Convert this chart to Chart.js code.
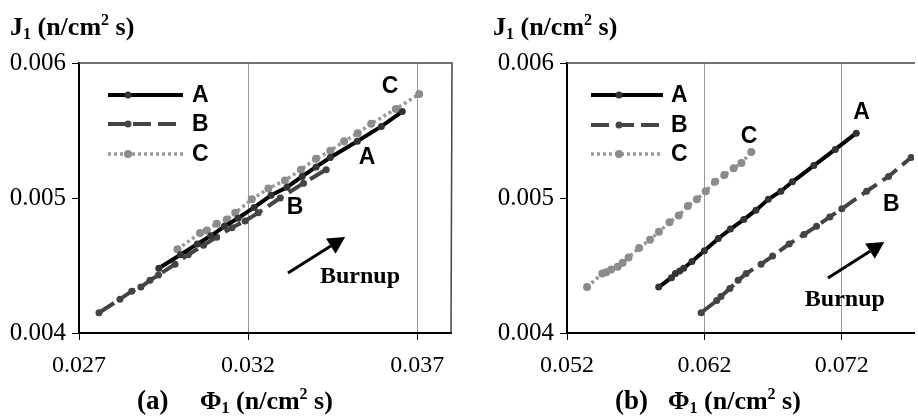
<!DOCTYPE html>
<html>
<head>
<meta charset="utf-8">
<script src="https://cdn.jsdelivr.net/npm/chart.js@4.4.1/dist/chart.umd.min.js"></script>
<style>
  body { margin: 0; background: #fff; }
  .panel { position: absolute; top: 0; width: 459px; height: 419px; }
  #pa { left: 0; }
  #pb { left: 459px; }
</style>
</head>
<body>
<div class="panel" id="pa"><canvas id="chartA" width="459" height="419"></canvas></div>
<div class="panel" id="pb"><canvas id="chartB" width="459" height="419"></canvas></div>
<script>
// series names and shared y ticks
const seriesNames = ['A', 'B', 'C'];
const yTicks = [0.004, 0.005, 0.006];

// panel (a)
const xTicksA = [0.027, 0.032, 0.037];
const aX_A = [0.02936, 0.0300, 0.0305, 0.0309, 0.0313, 0.0317, 0.03218, 0.03268, 0.03315, 0.0336, 0.03401, 0.03443, 0.03523, 0.03594, 0.03656];
const aY_A = [0.00448, 0.00458, 0.00466, 0.00472, 0.00479, 0.00485, 0.00493, 0.00502, 0.00508, 0.00516, 0.00523, 0.0053, 0.00542, 0.00553, 0.00564];
const aX_B = [0.02759, 0.02821, 0.02856, 0.02883, 0.0291, 0.02935, 0.02984, 0.03023, 0.03068, 0.03107, 0.03152, 0.03191, 0.0323, 0.03295, 0.03364, 0.03431];
const aY_B = [0.00415, 0.00425, 0.00431, 0.00434, 0.00439, 0.00443, 0.00451, 0.00458, 0.00465, 0.00471, 0.00478, 0.00483, 0.00489, 0.005, 0.00511, 0.00521];
const aX_C = [0.02991, 0.03058, 0.03078, 0.03107, 0.03137, 0.03162, 0.03211, 0.0326, 0.03309, 0.03356, 0.03401, 0.03443, 0.03484, 0.03524, 0.03564, 0.03637, 0.03706];
const aY_C = [0.00462, 0.00474, 0.00476, 0.00481, 0.00484, 0.00489, 0.00499, 0.00507, 0.00513, 0.00521, 0.00529, 0.00535, 0.00542, 0.00548, 0.00555, 0.00566, 0.00577];

// panel (b)
const xTicksB = [0.052, 0.062, 0.072];
const bX_A = [0.05867, 0.0596, 0.05989, 0.0602, 0.06049, 0.06109, 0.062, 0.06301, 0.06389, 0.06486, 0.06575, 0.06665, 0.06756, 0.0684, 0.06996, 0.07152, 0.07305];
const bY_A = [0.00434, 0.00441, 0.00444, 0.00446, 0.00448, 0.00453, 0.00461, 0.0047, 0.00477, 0.00484, 0.00491, 0.00499, 0.00505, 0.00512, 0.00524, 0.00536, 0.00548];
const bX_B = [0.06176, 0.0629, 0.0632, 0.06385, 0.06445, 0.06504, 0.06612, 0.06696, 0.06817, 0.06924, 0.07016, 0.07112, 0.072, 0.0738, 0.0754, 0.07704];
const bY_B = [0.00415, 0.00424, 0.00427, 0.00433, 0.00439, 0.00444, 0.00451, 0.00457, 0.00466, 0.00473, 0.00479, 0.00486, 0.00492, 0.00505, 0.00516, 0.0053];
const bX_C = [0.05346, 0.05457, 0.05486, 0.05522, 0.05569, 0.05605, 0.05648, 0.05725, 0.05804, 0.05869, 0.05946, 0.06013, 0.0608, 0.06145, 0.06209, 0.06277, 0.06345, 0.06413, 0.06469, 0.06541];
const bY_C = [0.00434, 0.00444, 0.00445, 0.00447, 0.00449, 0.00452, 0.00456, 0.00463, 0.00469, 0.00475, 0.00482, 0.00487, 0.00494, 0.00499, 0.00505, 0.00512, 0.00517, 0.00522, 0.00526, 0.00534];

const SERIF = '"Liberation Serif", "Times New Roman", serif';
const SANS = '"Liberation Sans", Arial, sans-serif';

const styles = [
    { line: '#000000', point: '#333333', dash: [], width: 4, radius: 3.5 },
    { line: '#444444', point: '#444444', dash: [18, 7], width: 4, radius: 3.5 },
    { line: '#999999', point: '#8c8c8c', dash: [3, 3], width: 3.5, radius: 4 }
];

function pts(xs, ys) {
    return xs.map((x, i) => ({ x: x, y: ys[i] }));
}

function makeDatasets(list) {
    // A drawn last so the solid line sits on top
    return list.map((d, i) => ({
        label: seriesNames[i],
        data: pts(d[0], d[1]),
        borderColor: styles[i].line,
        borderWidth: styles[i].width,
        borderDash: styles[i].dash,
        borderCapStyle: 'butt',
        pointBackgroundColor: styles[i].point,
        pointBorderWidth: 0,
        pointRadius: styles[i].radius,
        tension: 0,
        fill: false,
        order: i
    }));
}

// rich text with sub/superscripts
function drawRich(ctx, parts, x, y) {
    let cx = x;
    parts.forEach(p => {
        ctx.font = 'bold ' + p.size + 'px ' + SERIF;
        ctx.fillText(p.t, cx, y + (p.dy || 0));
        cx += ctx.measureText(p.t).width;
    });
}

function decorPlugin(cfg) {
    return {
        id: 'decor',
        beforeDatasetsDraw(chart) {
            const ctx = chart.ctx;
            const a = chart.chartArea;
            ctx.save();
            ctx.strokeStyle = '#444';
            ctx.lineWidth = 1.5;
            ctx.beginPath();
            ctx.moveTo(a.left, a.top);
            ctx.lineTo(a.right + 1, a.top);
            if (cfg.rightBorder) {
                ctx.lineTo(a.right, a.bottom);
            }
            ctx.stroke();
            ctx.restore();
        },
        afterDatasetsDraw(chart) {
            const ctx = chart.ctx;
            const xs = chart.scales.x;
            const ys = chart.scales.y;
            ctx.save();
            // legend
            cfg.legend.ys.forEach((ly, i) => {
                const s = styles[i];
                ctx.strokeStyle = s.line;
                ctx.lineWidth = s.width;
                ctx.setLineDash(s.dash);
                ctx.lineCap = 'butt';
                ctx.beginPath();
                ctx.moveTo(cfg.legend.x0, ly);
                ctx.lineTo(cfg.legend.x1, ly);
                ctx.stroke();
                ctx.setLineDash([]);
                ctx.fillStyle = s.point;
                ctx.beginPath();
                ctx.arc(cfg.legend.mx, ly, s.radius, 0, Math.PI * 2);
                ctx.fill();
                ctx.fillStyle = '#000';
                ctx.font = 'bold 23px ' + SANS;
                ctx.textBaseline = 'middle';
                ctx.textAlign = 'left';
                ctx.fillText(seriesNames[i], cfg.legend.lx, ly + 1);
            });
            // curve labels
            ctx.font = 'bold 23px ' + SANS;
            ctx.textAlign = 'center';
            ctx.textBaseline = 'middle';
            cfg.labels.forEach(l => {
                ctx.fillText(l.t, xs.getPixelForValue(l.x), ys.getPixelForValue(l.y));
            });
            // burnup arrow
            const x1 = xs.getPixelForValue(cfg.arrow[0]), y1 = ys.getPixelForValue(cfg.arrow[1]);
            const x2 = xs.getPixelForValue(cfg.arrow[2]), y2 = ys.getPixelForValue(cfg.arrow[3]);
            const ang = Math.atan2(y2 - y1, x2 - x1);
            const hl = 17, hw = 9;
            const bx = x2 - hl * Math.cos(ang), by = y2 - hl * Math.sin(ang);
            ctx.strokeStyle = '#000';
            ctx.lineWidth = 3;
            ctx.beginPath();
            ctx.moveTo(x1, y1);
            ctx.lineTo(bx, by);
            ctx.stroke();
            ctx.fillStyle = '#000';
            ctx.beginPath();
            ctx.moveTo(x2, y2);
            ctx.lineTo(bx + hw * Math.sin(ang), by - hw * Math.cos(ang));
            ctx.lineTo(bx - hw * Math.sin(ang), by + hw * Math.cos(ang));
            ctx.closePath();
            ctx.fill();
            ctx.font = 'bold 24px ' + SERIF;
            ctx.fillText('Burnup', xs.getPixelForValue(cfg.burnup[0]), ys.getPixelForValue(cfg.burnup[1]));
            ctx.restore();
        },
        afterDraw(chart) {
            const ctx = chart.ctx;
            ctx.save();
            ctx.fillStyle = '#000';
            ctx.textAlign = 'left';
            ctx.textBaseline = 'alphabetic';
            drawRich(ctx, [
                { t: 'J', size: 26 }, { t: '1', size: 16, dy: 4 }, { t: ' (n/cm', size: 26 },
                { t: '2', size: 16, dy: -10 }, { t: ' s)', size: 26 }
            ], cfg.yTitleX, 35);
            drawRich(ctx, [{ t: cfg.tag, size: 27 }], cfg.tagX, 409);
            drawRich(ctx, [
                { t: '\u03A6', size: 26 }, { t: '1', size: 16, dy: 4 }, { t: ' (n/cm', size: 26 },
                { t: '2', size: 16, dy: -10 }, { t: ' s)', size: 26 }
            ], cfg.phiX, 409);
            ctx.restore();
        }
    };
}

function makeChart(canvasId, datasets, xTicks, xMin, xMax, padRight, yAxisWidth, cfg) {
    return new Chart(document.getElementById(canvasId), {
        type: 'line',
        data: { datasets: datasets },
        options: {
            responsive: false,
            animation: false,
            layout: { padding: { left: 0, top: 63, right: padRight, bottom: 0 } },
            plugins: { legend: { display: false }, tooltip: { enabled: false } },
            scales: {
                x: {
                    type: 'linear',
                    min: xMin,
                    max: xMax,
                    afterBuildTicks: s => { s.ticks = xTicks.map(v => ({ value: v })); },
                    afterFit: s => { s.height = 86; },
                    ticks: {
                        color: '#000',
                        font: { family: SERIF, size: 24 },
                        padding: 11,
                        maxRotation: 0,
                        autoSkip: false,
                        callback: v => v.toFixed(3)
                    },
                    grid: { color: '#999', lineWidth: 1, tickColor: '#000', tickLength: 7 },
                    border: { color: '#000', width: 2 }
                },
                y: {
                    min: 0.004,
                    max: 0.006,
                    afterBuildTicks: s => { s.ticks = yTicks.map(v => ({ value: v })); },
                    afterFit: s => { s.width = yAxisWidth; },
                    ticks: {
                        color: '#000',
                        font: { family: SERIF, size: 25 },
                        padding: 6,
                        callback: v => v.toFixed(3)
                    },
                    grid: { drawOnChartArea: false, tickColor: '#000', tickLength: 7 },
                    border: { color: '#000', width: 2 }
                }
            }
        },
        plugins: [decorPlugin(cfg)]
    });
}

makeChart('chartA',
    makeDatasets([[aX_A, aY_A], [aX_B, aY_B], [aX_C, aY_C]]),
    xTicksA, 0.027, 0.038, 8, 79,
    {
        rightBorder: true,
        legend: { x0: 108, x1: 183, mx: 128, lx: 192, ys: [95, 124, 154] },
        labels: [
            { t: 'C', x: 0.0362, y: 0.005822 },
            { t: 'A', x: 0.03552, y: 0.005296 },
            { t: 'B', x: 0.03339, y: 0.004926 }
        ],
        arrow: [0.03318, 0.004444, 0.03487, 0.004711],
        burnup: [0.03531, 0.004415],
        yTitleX: 10,
        tag: '(a)', tagX: 137, phiX: 200
    });

makeChart('chartB',
    makeDatasets([[bX_A, bY_A], [bX_B, bY_B], [bX_C, bY_C]]),
    xTicksB, 0.052, 0.07725, 0, 108,
    {
        rightBorder: false,
        legend: { x0: 132, x1: 204, mx: 160, lx: 212, ys: [95, 125, 154] },
        labels: [
            { t: 'A', x: 0.07344, y: 0.00563 },
            { t: 'C', x: 0.06524, y: 0.005452 },
            { t: 'B', x: 0.0756, y: 0.004948 }
        ],
        arrow: [0.07099, 0.004407, 0.07509, 0.004674],
        burnup: [0.07222, 0.004244],
        yTitleX: 34,
        tag: '(b)', tagX: 156, phiX: 209
    });
</script>
</body>
</html>
